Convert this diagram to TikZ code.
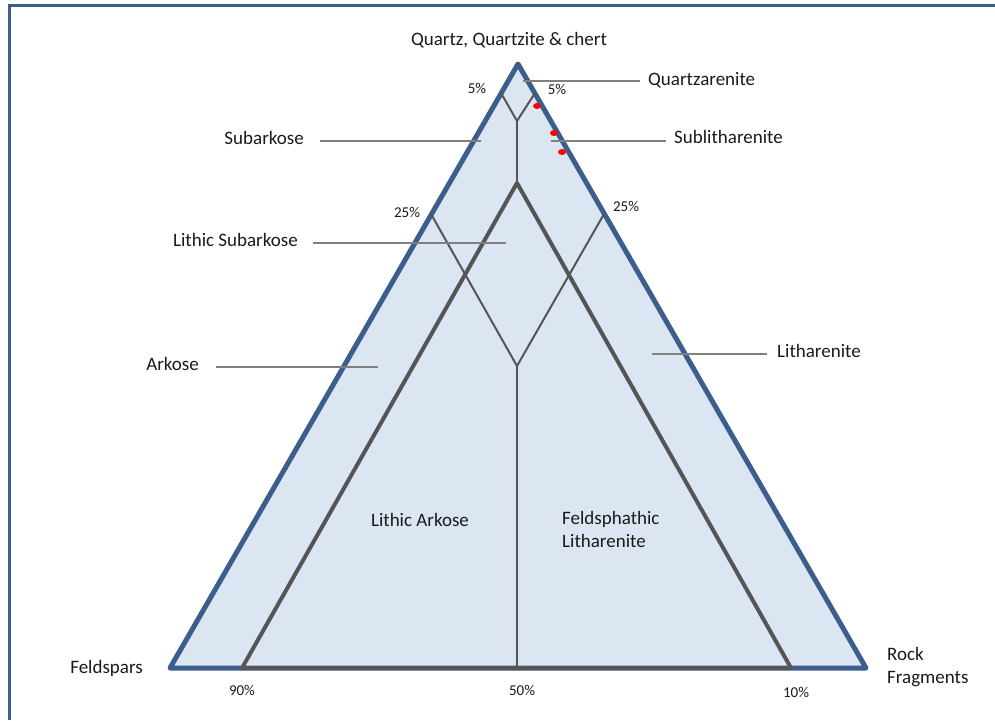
\documentclass[tikz,border=0pt]{standalone}
\usepackage{fontspec}
\setmainfont{Carlito}
\definecolor{triblue}{HTML}{3B5E8C}
\definecolor{trifill}{HTML}{DCE6F2}
\definecolor{innergray}{HTML}{555555}
\definecolor{leadgray}{HTML}{808080}
\definecolor{txt}{HTML}{1A1A1A}
\tikzset{
  lbl/.style={font=\fontsize{19}{23}\selectfont, text=txt, inner sep=0pt},
  pct/.style={font=\fontsize{15}{18}\selectfont, text=txt, inner sep=0pt},
  leader/.style={draw=leadgray, line width=2pt},
  divline/.style={draw=innergray, line width=2pt},
  innertri/.style={draw=innergray, line width=4pt, line join=round},
  outertri/.style={draw=triblue, fill=trifill, line width=5pt, line join=round},
  reddot/.style={fill=red, draw=none}
}
\begin{document}
\begin{tikzpicture}[x=1pt,y=-1pt]
\useasboundingbox (0,0) rectangle (995,720);
% frame
\draw[triblue, line width=3pt] (9,720) -- (9,5) -- (995,5);
% corners
\coordinate (Q) at (518,64);
\coordinate (F) at (170,668);
\coordinate (R) at (866,668);
\draw[outertri] (Q) -- (F) -- (R) -- cycle;
% inner triangle
\coordinate (iQ) at (517,183);
\coordinate (iF) at (242,668);
\coordinate (iR) at (791,668);
\draw[innertri] (iF) -- (iQ) -- (iR) -- cycle;
% 5% lines
\coordinate (a5L) at (501,93);
\coordinate (a5R) at (535,93);
\coordinate (j5) at (517,121);
\draw[divline, line join=round] (a5L) -- (j5) -- (a5R);
\draw[divline] (j5) -- (iQ);
% 25% lines
\coordinate (a25L) at (431,214);
\coordinate (a25R) at (604,214);
\coordinate (j25) at (517,366);
\coordinate (bmid) at (517,668);
\draw[divline, line join=round] (a25L) -- (j25) -- (a25R);
\draw[divline] (j25) -- (bmid);
% labels
\node[lbl] (qtop) at (509,40) {Quartz, Quartzite \& chert};
\node[lbl, anchor=west] (qa) at (648,80) {Quartzarenite};
\node[lbl, anchor=west] (sl) at (674,137) {Sublitharenite};
\node[lbl, anchor=east] (sa) at (304,138) {Subarkose};
\node[lbl, anchor=east] (lsa) at (298,240) {Lithic Subarkose};
\node[lbl, anchor=east] (ak) at (199,364) {Arkose};
\node[lbl, anchor=west] (lt) at (777,351) {Litharenite};
\node[lbl] (la) at (420,520) {Lithic Arkose};
\node[lbl, anchor=west, align=left] (fl) at (562,529) {Feldsphathic\\Litharenite};
\node[lbl, anchor=east] (fs) at (143,668) {Feldspars};
\node[lbl, anchor=west, align=left] (rf) at (887,667) {Rock\\Fragments};
% percentages
\node[pct] (p5l) at (477,88) {5\%};
\node[pct] (p5r) at (557,89) {5\%};
\node[pct] (p25l) at (407,212) {25\%};
\node[pct] (p25r) at (626,206) {25\%};
\node[pct] (p90) at (242,690) {90\%};
\node[pct] (p50) at (522,690) {50\%};
\node[pct] (p10) at (796,692) {10\%};
% leader ends
\coordinate (eqa) at (523,81);
\coordinate (esl) at (551,141);
\coordinate (esa) at (481,141);
\coordinate (elsa) at (506,243);
\coordinate (eak) at (378,367);
\coordinate (elt) at (652,354);
\draw[leader] (eqa) -- (640,81);
\draw[leader] (esl) -- (666,141);
\draw[leader] (320,141) -- (esa);
\draw[leader] (313,243) -- (elsa);
\draw[leader] (216,367) -- (eak);
\draw[leader] (elt) -- (767,354);
% red dots
\fill[reddot] (537,106) ellipse (4pt and 3pt);
\fill[reddot] (554,133) ellipse (4pt and 3pt);
\fill[reddot] (562,152) ellipse (4pt and 3pt);
\end{tikzpicture}
\end{document}
